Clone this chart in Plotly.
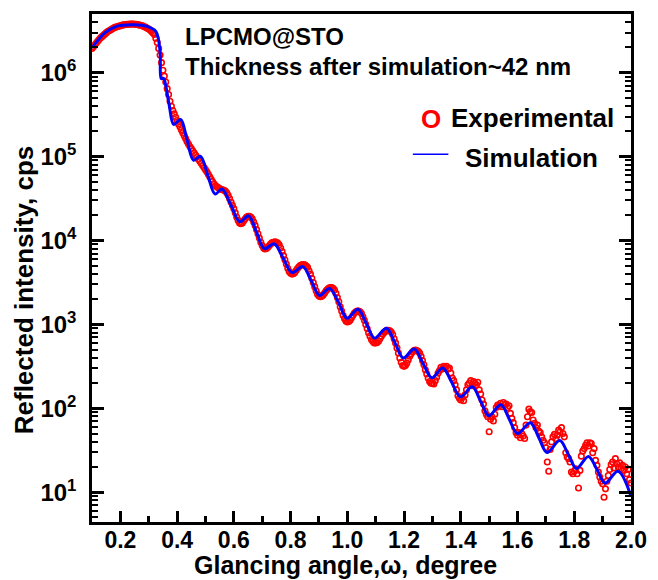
import numpy as np
import plotly.graph_objects as go

# Experimental XRR scan (0.005 deg step), log10 of intensity in cps
exp_angle = np.round(np.arange(0.100, 2.0001, 0.005), 3)
exp_log_cps = [
    6.29, 6.31, 6.33, 6.355, 6.375, 6.395, 6.415, 6.43, 6.445, 6.46,
    6.475, 6.49, 6.50, 6.51, 6.52, 6.53, 6.54, 6.545, 6.55, 6.555,
    6.56, 6.565, 6.57, 6.572, 6.575, 6.577, 6.578, 6.579, 6.58, 6.58,
    6.578, 6.576, 6.574, 6.57, 6.566, 6.562, 6.556, 6.548, 6.54, 6.53,
    6.52, 6.51, 6.49, 6.475, 6.455, 6.41, 6.36, 6.29, 6.21, 6.12,
    6.03, 5.96, 5.89, 5.81, 5.74, 5.66, 5.60, 5.55, 5.51, 5.47,
    5.43, 5.39, 5.355, 5.32, 5.285, 5.25, 5.215, 5.18, 5.15, 5.12,
    5.095, 5.07, 5.045, 5.02, 4.995, 4.97, 4.945, 4.92, 4.895, 4.87,
    4.845, 4.82, 4.79, 4.76, 4.73, 4.70, 4.675, 4.655, 4.64, 4.63,
    4.62, 4.61, 4.605, 4.60, 4.59, 4.57, 4.54, 4.50, 4.46, 4.42,
    4.38, 4.33, 4.28, 4.24, 4.21, 4.20, 4.21, 4.235, 4.26, 4.28,
    4.29, 4.29, 4.28, 4.26, 4.22, 4.18, 4.13, 4.08, 4.03, 3.98,
    3.94, 3.91, 3.90, 3.905, 3.92, 3.94, 3.96, 3.975, 3.98, 3.985,
    3.98, 3.97, 3.95, 3.91, 3.87, 3.82, 3.77, 3.72, 3.67, 3.63,
    3.61, 3.60, 3.605, 3.62, 3.645, 3.67, 3.69, 3.705, 3.71, 3.715,
    3.71, 3.70, 3.68, 3.64, 3.60, 3.55, 3.50, 3.45, 3.40, 3.36,
    3.34, 3.33, 3.335, 3.35, 3.375, 3.40, 3.42, 3.435, 3.44, 3.44,
    3.43, 3.41, 3.37, 3.32, 3.27, 3.21, 3.16, 3.11, 3.07, 3.04,
    3.03, 3.035, 3.05, 3.08, 3.11, 3.135, 3.15, 3.16, 3.16, 3.15,
    3.13, 3.09, 3.05, 3.00, 2.95, 2.90, 2.86, 2.82, 2.795, 2.78,
    2.78, 2.785, 2.80, 2.83, 2.86, 2.885, 2.905, 2.92, 2.93, 2.93,
    2.925, 2.91, 2.88, 2.83, 2.78, 2.72, 2.66, 2.60, 2.55, 2.51,
    2.50, 2.51, 2.54, 2.58, 2.62, 2.65, 2.675, 2.69, 2.695, 2.69,
    2.68, 2.66, 2.62, 2.57, 2.52, 2.46, 2.41, 2.36, 2.32, 2.30,
    2.30, 2.29, 2.33, 2.37, 2.42, 2.45, 2.49, 2.47, 2.50, 2.48,
    2.50, 2.47, 2.48, 2.42, 2.36, 2.33, 2.28, 2.22, 2.15, 2.12,
    2.10, 2.13, 2.09, 2.16, 2.22, 2.28, 2.30, 2.33, 2.27, 2.32,
    2.30, 2.28, 2.31, 2.22, 2.17, 2.10, 2.05, 1.97, 1.93, 1.90,
    1.72, 1.87, 1.90, 1.85, 1.93, 2.01, 2.04, 2.03, 2.06, 2.02,
    2.07, 2.04, 2.05, 2.01, 2.03, 1.94, 1.88, 1.83, 1.77, 1.71,
    1.68, 1.71, 1.65, 1.70, 1.67, 1.64, 1.80, 1.90, 1.99, 1.96,
    1.95, 1.86, 1.82, 1.77, 1.80, 1.73, 1.71, 1.66, 1.62, 1.59,
    1.53, 1.36, 1.25, 1.51, 1.60, 1.66, 1.69, 1.64, 1.68, 1.74,
    1.72, 1.77, 1.70, 1.66, 1.47, 1.42, 1.40, 1.36, 1.24, 1.22,
    1.25, 1.28, 1.22, 1.05, 1.26, 1.43, 1.49, 1.52, 1.56, 1.59,
    1.55, 1.59, 1.58, 1.47, 1.52, 1.38, 1.32, 1.24, 1.18, 1.13,
    1.10, 0.94, 1.04, 1.13, 1.20, 1.27, 1.33, 1.36, 1.29, 1.40,
    1.34, 1.30, 1.35, 1.28, 1.32, 1.26, 1.30, 1.22, 1.27, 1.15,
    1.11,
]

# Simulated reflectivity, sampled at its turning points (log10 cps)
sim_angle = [0.100, 0.145, 0.186, 0.249, 0.294, 0.325, 0.340, 0.344, 0.352, 0.358,
             0.372, 0.388, 0.4125, 0.435, 0.458, 0.482, 0.508, 0.534, 0.558, 0.590,
             0.621, 0.652, 0.680, 0.708, 0.742, 0.774, 0.805, 0.843, 0.873, 0.902,
             0.937, 0.968, 0.999, 1.0375, 1.067, 1.096, 1.138, 1.168, 1.197, 1.236,
             1.267, 1.298, 1.336, 1.368, 1.399, 1.440, 1.470, 1.499, 1.541, 1.571,
             1.600, 1.645, 1.675, 1.704, 1.749, 1.779, 1.808, 1.850, 1.880, 1.909,
             1.954, 2.000]
sim_log_cps = [6.296, 6.474, 6.553, 6.572, 6.553, 6.494, 6.25, 5.93, 5.935, 5.88,
               5.62, 5.384, 5.443, 5.20, 4.957, 5.005, 4.78, 4.554, 4.614, 4.42,
               4.223, 4.294, 4.10, 3.903, 3.962, 3.79, 3.618, 3.689, 3.52, 3.346,
               3.429, 3.27, 3.073, 3.180, 3.01, 2.837, 2.955, 2.78, 2.600, 2.706,
               2.535, 2.363, 2.481, 2.31, 2.137, 2.256, 2.085, 1.912, 2.043, 1.87,
               1.699, 1.829, 1.65, 1.474, 1.616, 1.45, 1.284, 1.427, 1.27, 1.107,
               1.249, 0.95]

x_ticks = [0.2, 0.4, 0.6, 0.8, 1.0, 1.2, 1.4, 1.6, 1.8, 2.0]
y_decades = [1, 2, 3, 4, 5, 6]

exp_cps = 10 ** np.array(exp_log_cps)
sim_cps = 10 ** np.array(sim_log_cps)

FONT = "Liberation Sans, Arial, sans-serif"

fig = go.Figure()
fig.add_trace(go.Scatter(
    x=exp_angle, y=exp_cps, mode="markers", name="Experimental",
    marker=dict(symbol="circle-open", size=5.5, color="#FF0000",
                line=dict(color="#FF0000", width=1.6)),
    showlegend=False,
))
fig.add_trace(go.Scatter(
    x=sim_angle, y=sim_cps, mode="lines", name="Simulation",
    line=dict(color="#0000FF", width=3, shape="spline", smoothing=1.0),
    showlegend=False,
))

# plot area in pixels: left 92, right 638, top 11, bottom 522
L, R, T, B = 92, 638, 11, 522
def px(xp):
    return (xp - L) / (R - L)
def py(yp):
    return (B - yp) / (B - T)

def label(text, xp, yp, size, color="black", xanchor="left", angle=0):
    fig.add_annotation(
        text=text, x=px(xp), y=py(yp), xref="paper", yref="paper",
        xanchor=xanchor, yanchor="middle", showarrow=False, textangle=angle,
        font=dict(family=FONT, size=size, color=color, weight="bold"),
    )

label("LPCMO@STO", 184, 33.5, 24)
label("Thickness after simulation~42 nm", 184, 63.5, 24)
label("O", 435.5, 117, 26, color="#FF0000", xanchor="center")
label("Experimental", 454, 116, 26)
label("Simulation", 468, 156, 26)
fig.add_shape(type="line", xref="paper", yref="paper",
              x0=px(417), x1=px(453), y0=py(152), y1=py(152),
              line=dict(color="#0000FF", width=1.5))

label("Glancing angle,ω, degree", 349, 565, 25, xanchor="center")
label("Reflected intensity, cps", 24, 288, 26, xanchor="center", angle=-90)

minor_y = [k * 10 ** n for n in range(0, 7) for k in range(2, 10)]

fig.update_layout(
    width=658, height=580,
    margin=dict(l=L, r=658 - R, t=T, b=580 - B),
    paper_bgcolor="white", plot_bgcolor="white",
    xaxis=dict(
        range=[0.1, 2.0], tickvals=x_ticks,
        ticktext=[f"{v:.1f}" for v in x_ticks],
        showline=True, linecolor="black", linewidth=2.5, mirror=True,
        ticks="inside", ticklen=11, tickwidth=2.5, tickcolor="black",
        minor=dict(dtick=0.1, tick0=0.1, ticks="inside", ticklen=6,
                   tickwidth=2.5, tickcolor="black"),
        showgrid=False, zeroline=False, ticklabelstandoff=-4,
        tickfont=dict(family=FONT, size=23, color="black", weight="bold"),
    ),
    yaxis=dict(
        type="log", range=[0.645, 6.70],
        tickvals=[10 ** d for d in y_decades],
        ticktext=[f"10<sup>{d}</sup>" for d in y_decades],
        showline=True, linecolor="black", linewidth=2.5, mirror="ticks",
        ticks="inside", ticklen=12, tickwidth=2.5, tickcolor="black",
        minor=dict(tickmode="array", tickvals=minor_y, ticks="inside",
                   ticklen=6, tickwidth=2, tickcolor="black"),
        showgrid=False, zeroline=False, ticklabelstandoff=8,
        tickfont=dict(family=FONT, size=24, color="black", weight="bold"),
    ),
)

fig.write_html("out.html")
